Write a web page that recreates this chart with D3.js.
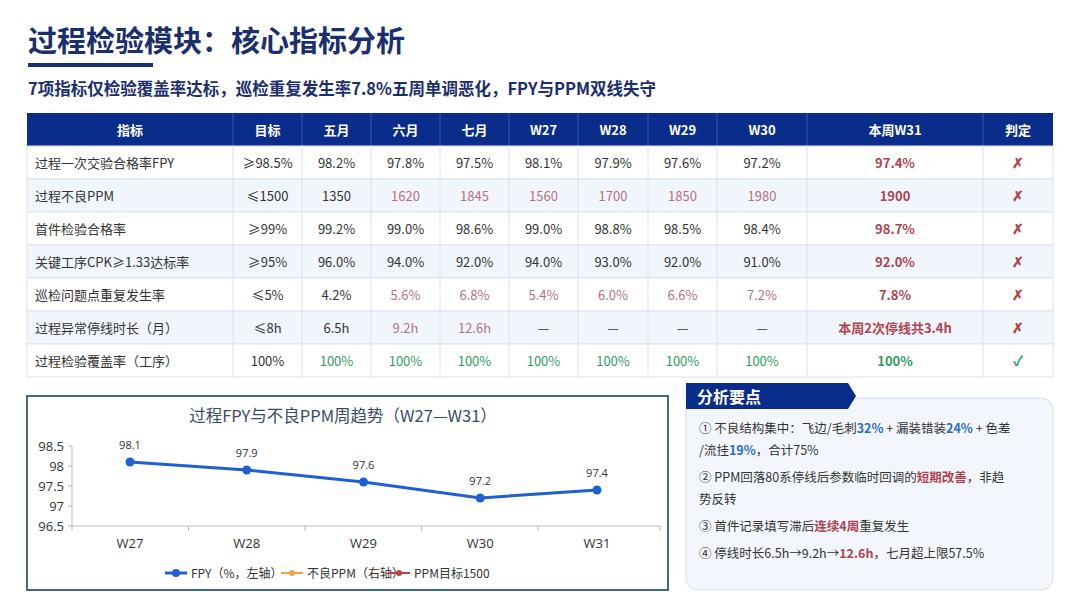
<!DOCTYPE html>
<html><head><meta charset="utf-8">
<script src="https://cdn.jsdelivr.net/npm/d3@7"></script>
<style>
body{margin:0;background:#fff;font-family:"Noto Sans CJK SC","Noto Sans",sans-serif;}
</style></head>
<body><svg width="1080" height="608"></svg>
<script>
// table data
const headers = ['指标','目标','五月','六月','七月','W27','W28','W29','W30','本周W31','判定'];
const colEdges = [27,233,302,371,440,509,578,648,717,807,983,1053];
const metrics = ['过程一次交验合格率FPY','过程不良PPM','首件检验合格率','关键工序CPK≥1.33达标率','巡检问题点重复发生率','过程异常停线时长（月）','过程检验覆盖率（工序）'];
const targets = ['≥98.5%','≤1500','≥99%','≥95%','≤5%','≤8h','100%'];
const periodValues = [
  ['98.2%','97.8%','97.5%','98.1%','97.9%','97.6%','97.2%'],
  ['1350','1620','1845','1560','1700','1850','1980'],
  ['99.2%','99.0%','98.6%','99.0%','98.8%','98.5%','98.4%'],
  ['96.0%','94.0%','92.0%','94.0%','93.0%','92.0%','91.0%'],
  ['4.2%','5.6%','6.8%','5.4%','6.0%','6.6%','7.2%'],
  ['6.5h','9.2h','12.6h','—','—','—','—'],
  ['100%','100%','100%','100%','100%','100%','100%']
];
// 0 normal, 1 bad (muted red), 2 good (green)
const periodStatus = [
  [0,0,0,0,0,0,0],
  [0,1,1,1,1,1,1],
  [0,0,0,0,0,0,0],
  [0,0,0,0,0,0,0],
  [0,1,1,1,1,1,1],
  [0,1,1,0,0,0,0],
  [2,2,2,2,2,2,2]
];
const currentWeek = ['97.4%','1900','98.7%','92.0%','7.8%','本周2次停线共3.4h','100%'];
const verdicts = ['✗','✗','✗','✗','✗','✗','✓'];

// chart data
const weeks = ['W27','W28','W29','W30','W31'];
const fpy = [98.1,97.9,97.6,97.2,97.4];
const yTicks = [96.5,97,97.5,98,98.5];

const svg = d3.select('svg');
const navy = '#1b2f6e', red = '#b0434f', muted = '#b8727c', green = '#2f9e5f';

// title
svg.append('text').attr('x',28).attr('y',52).attr('font-size',29).attr('font-weight',700)
  .attr('fill',navy).text('过程检验模块：核心指标分析');
svg.append('rect').attr('x',28).attr('y',63).attr('width',125).attr('height',4).attr('fill',navy);
svg.append('text').attr('x',28).attr('y',95).attr('font-size',16.5).attr('font-weight',700)
  .attr('fill',navy).text('7项指标仅检验覆盖率达标，巡检重复发生率7.8%五周单调恶化，FPY与PPM双线失守');

// table
const tT = 113, hH = 33, rH = 33;
const tg = svg.append('g');
tg.append('rect').attr('x',27).attr('y',tT).attr('width',1026).attr('height',hH).attr('fill','#0a2d8c');
headers.forEach((h,i)=>{
  tg.append('text').attr('x',(colEdges[i]+colEdges[i+1])/2).attr('y',tT+hH/2+5)
    .attr('text-anchor','middle').attr('font-size',13).attr('font-weight',700).attr('fill','#fff').text(h);
  if(i>0) tg.append('line').attr('x1',colEdges[i]).attr('x2',colEdges[i]).attr('y1',tT).attr('y2',tT+hH)
    .attr('stroke','#3d5aa8').attr('stroke-width',1);
});
metrics.forEach((m,r)=>{
  const y = tT+hH+r*rH;
  tg.append('rect').attr('x',27).attr('y',y).attr('width',1026).attr('height',rH)
    .attr('fill', r%2 ? '#f1f5fc' : '#fff').attr('stroke','#dbe2ee');
  colEdges.slice(1,-1).forEach(x=>tg.append('line').attr('x1',x).attr('x2',x).attr('y1',y).attr('y2',y+rH).attr('stroke','#dbe2ee'));
  const ty = y+rH/2+5;
  tg.append('text').attr('x',35).attr('y',ty).attr('font-size',13).attr('fill','#333').text(m);
  const cx = i=>(colEdges[i]+colEdges[i+1])/2;
  tg.append('text').attr('x',cx(1)).attr('y',ty).attr('text-anchor','middle').attr('font-size',13).attr('fill','#333').text(targets[r]);
  periodValues[r].forEach((v,j)=>{
    const s = periodStatus[r][j];
    tg.append('text').attr('x',cx(j+2)).attr('y',ty).attr('text-anchor','middle').attr('font-size',13)
      .attr('fill', s===1?muted:s===2?green:'#333').text(v);
  });
  const ok = verdicts[r]==='✓';
  tg.append('text').attr('x',cx(9)).attr('y',ty).attr('text-anchor','middle').attr('font-size',13).attr('font-weight',700)
    .attr('fill', ok?green:red).text(currentWeek[r]);
  tg.append('text').attr('x',cx(10)).attr('y',ty).attr('text-anchor','middle').attr('font-size',14).attr('font-weight',700)
    .attr('fill', ok?green:red).text(verdicts[r]);
});

// chart panel
svg.append('rect').attr('x',27).attr('y',396).attr('width',641).attr('height',194)
  .attr('fill','#fff').attr('stroke','#3f6b7c').attr('stroke-width',2);
svg.append('text').attr('x',343).attr('y',422).attr('text-anchor','middle').attr('font-size',16.5)
  .attr('fill','#3a4a66').text('过程FPY与不良PPM周趋势（W27—W31）');
const x = d3.scalePoint().domain(weeks).range([130,597]).padding(0);
const y = d3.scaleLinear().domain([96.5,98.5]).range([526,446]);
const cg = svg.append('g').attr('font-family','"Open Sans","Noto Sans CJK SC",sans-serif');
cg.append('line').attr('x1',72).attr('x2',660).attr('y1',y(96.5)).attr('y2',y(96.5)).attr('stroke','#bbb');
cg.append('line').attr('x1',72).attr('x2',72).attr('y1',y(98.5)).attr('y2',y(96.5)).attr('stroke','#bbb');
[72,188.5,305,421.5,538,660].forEach(t=>cg.append('line').attr('x1',t).attr('x2',t).attr('y1',526).attr('y2',531).attr('stroke','#bbb'));
yTicks.forEach(t=>{
  cg.append('line').attr('x1',68).attr('x2',72).attr('y1',y(t)).attr('y2',y(t)).attr('stroke','#bbb');
  cg.append('text').attr('x',64).attr('y',y(t)+5).attr('text-anchor','end').attr('font-size',13).attr('fill','#333').text(t);
});
weeks.forEach(w=>cg.append('text').attr('x',x(w)).attr('y',548).attr('text-anchor','middle').attr('font-size',13).attr('fill','#333').text(w));
const line = d3.line().x((d,i)=>x(weeks[i])).y(d=>y(d));
cg.append('path').attr('d',line(fpy)).attr('fill','none').attr('stroke','#1f5fd1').attr('stroke-width',3);
fpy.forEach((v,i)=>{
  cg.append('circle').attr('cx',x(weeks[i])).attr('cy',y(v)).attr('r',4.5).attr('fill','#1f5fd1');
  cg.append('text').attr('x',x(weeks[i])).attr('y',y(v)-13).attr('text-anchor','middle').attr('font-size',11).attr('fill','#333').text(v);
});
// legend
const legend = [['FPY（%，左轴）','#1f5fd1',3],['不良PPM（右轴）','#f0a050',2],['PPM目标1500','#b0434f',2]];
let lx = 165;
legend.forEach(([t,c,w])=>{
  cg.append('line').attr('x1',lx).attr('x2',lx+22).attr('y1',573).attr('y2',573).attr('stroke',c).attr('stroke-width',w);
  cg.append('circle').attr('cx',lx+11).attr('cy',573).attr('r',w===3?4:3).attr('fill',c);
  cg.append('text').attr('x',lx+26).attr('y',577.5).attr('font-size',12).attr('fill','#333').attr('font-family','"Noto Sans CJK SC",sans-serif').text(t);
  lx += [116,107,0][legend.findIndex(l=>l[0]===t)];
});

// analysis panel
svg.append('rect').attr('x',686).attr('y',398).attr('width',367).attr('height',192).attr('rx',12)
  .attr('fill','#f3f7fd').attr('stroke','#d6deea');
svg.append('path').attr('d','M686,383 L848,383 L856,396 L848,409 L686,409 Z').attr('fill','#0a2d8c');
svg.append('text').attr('x',697).attr('y',403).attr('font-size',16).attr('font-weight',700).attr('fill','#fff').text('分析要点');
const blue='#2a6bd0';
const notes = [
  [428,[['① 不良结构集中：飞边/毛刺'],['32%',blue],[' + 漏装错装'],['24%',blue],[' + 色差']]],
  [450,[['/流挂'],['19%',blue],['，合计75%']]],
  [477,[['② PPM回落80系停线后参数临时回调的'],['短期改善',red],['，非趋']]],
  [499,[['势反转']]],
  [526,[['③ 首件记录填写滞后'],['连续4周',red],['重复发生']]],
  [553,[['④ 停线时长6.5h→9.2h→'],['12.6h',red],['，七月超上限57.5%']]]
];
notes.forEach(([ly,parts])=>{
  const t = svg.append('text').attr('x',699).attr('y',ly+5).attr('font-size',12.5).attr('fill','#333');
  parts.forEach(([s,c])=>t.append('tspan').text(s).attr('fill',c||'#333').attr('font-weight',c?700:400));
});
</script></body></html>
